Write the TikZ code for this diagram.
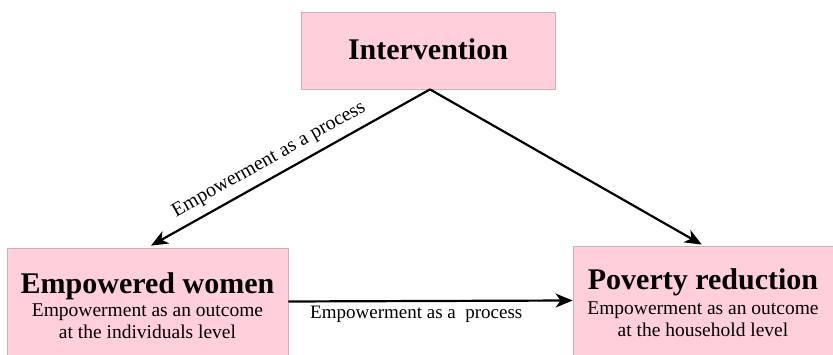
\documentclass[tikz,border=0pt]{standalone}
\usepackage{fontspec}
\setmainfont{Liberation Serif}
\usetikzlibrary{arrows.meta,calc}
\definecolor{boxpink}{RGB}{255,208,220}
\definecolor{boxedge}{RGB}{205,175,185}
\begin{document}
\begin{tikzpicture}[x=1pt,y=1pt,
  box/.style={draw=boxedge,fill=boxpink,line width=0.8pt,inner sep=0pt},
  title/.style={font=\fontsize{30}{34}\selectfont\bfseries,anchor=base,inner sep=0pt},
  sub/.style={font=\fontsize{19.5}{21.6}\selectfont,anchor=base,inner sep=0pt},
  lab/.style={font=\fontsize{19}{21}\selectfont},
  arr/.style={line width=2.2pt,-{Stealth[length=17pt,width=14pt,inset=5pt]}}]
\useasboundingbox (0,0) rectangle (833,355);
\node[box,minimum width=254pt,minimum height=77pt] (interv) at (428,304.5) {};
\node[title] (intervt) at (428,295) {Intervention};
\node[box,minimum width=281pt,minimum height=107pt] (women) at (147.5,53.5) {};
\node[title] (womant) at (147.5,61.7) {Empowered women};
\node[sub] (womans1) at (147.5,38.3) {Empowerment as an outcome};
\node[sub] (womans2) at (147.5,16.7) {at the individuals level};
\node[box,minimum width=261pt,minimum height=109pt] (poverty) at (703.5,54.5) {};
\node[title] (povertyt) at (703,65) {Poverty reduction};
\node[sub] (povertys1) at (703,40) {Empowerment as an outcome};
\node[sub] (povertys2) at (703,18.3) {at the household level};
\draw[arr,shorten >=4pt] ($(interv.south)+(2,0)$) -- node[lab,font=\fontsize{20}{22}\selectfont,sloped,above=4pt,pos=0.54] (l1) {Empowerment as a process} (women.north);
\draw[arr,shorten >=2pt] ($(interv.south)+(2,0)$) -- (poverty.north);
\draw[arr] (women.east) -- node[lab,below=1pt,pos=0.45] (l2) {Empowerment as a\ \ process} (poverty.west);
\end{tikzpicture}
\end{document}
